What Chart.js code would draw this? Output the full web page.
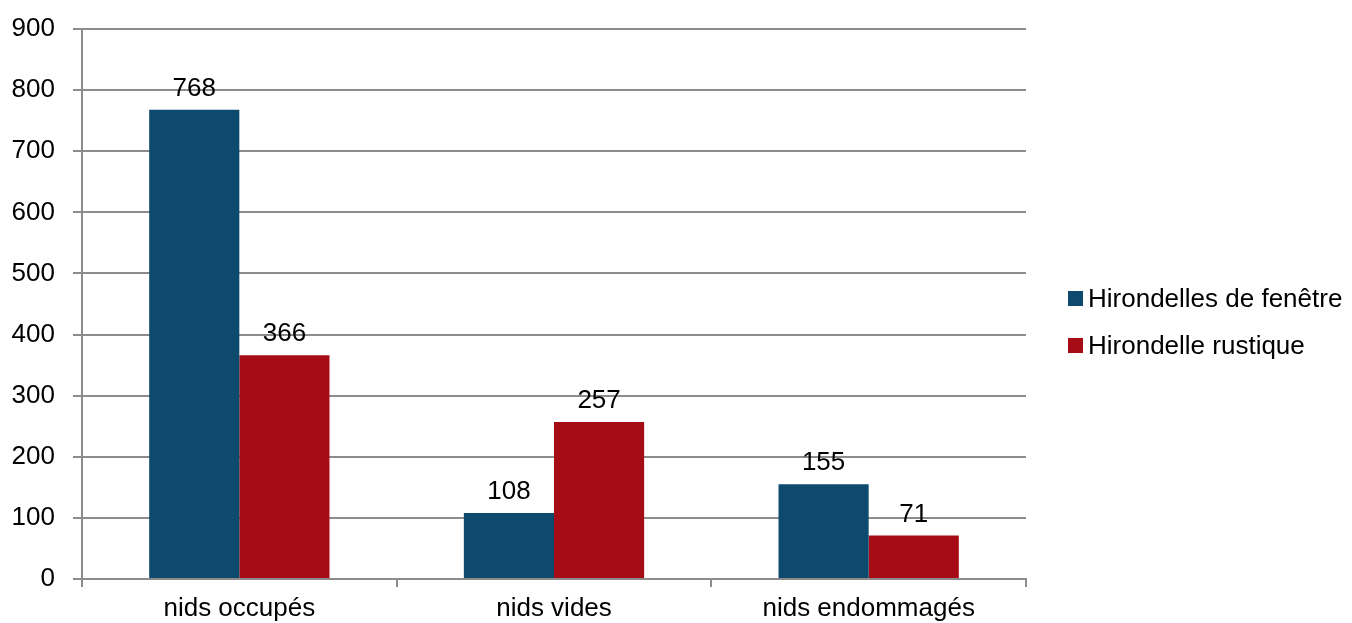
<!DOCTYPE html>
<html>
<head>
<meta charset="utf-8">
<script src="https://cdn.jsdelivr.net/npm/chart.js@4/dist/chart.umd.min.js"></script>
<style>
  html, body { margin: 0; padding: 0; background: #fff; }
  #wrap { width: 1352px; height: 623px; position: relative; }
  #legende { position: absolute; left: 1068px; top: 282px; font: 26px 'Liberation Sans', Arial, sans-serif; color: #000; }
  #legende div { display: flex; align-items: center; height: 32px; margin-bottom: 15px; white-space: nowrap; }
  #legende span.case { display: inline-block; width: 15px; height: 15px; margin-right: 5px; }
</style>
</head>
<body>
<div id="wrap"><canvas id="grafik"></canvas><div id="legende"></div></div>
<script>
// données
const categories = ["nids occupés", "nids vides", "nids endommagés"];
const fenetre = [768, 108, 155];
const rustique = [366, 257, 71];
const yTicks = [0, 100, 200, 300, 400, 500, 600, 700, 800, 900];

const GRIS = "#8c8c8c";
const FONT = "'Liberation Sans', Arial, sans-serif";

// valeurs au-dessus des barres
const etiquettes = {
  id: "etiquettes",
  afterDatasetsDraw(chart) {
    const ctx = chart.ctx;
    ctx.save();
    ctx.font = "26px " + FONT;
    ctx.fillStyle = "#000";
    ctx.textAlign = "center";
    ctx.textBaseline = "alphabetic";
    chart.data.datasets.forEach((ds, i) => {
      chart.getDatasetMeta(i).data.forEach((bar, j) => {
        ctx.fillText(ds.data[j], bar.x, bar.y - 14);
      });
    });
    ctx.restore();
  }
};

const grafik = new Chart(document.getElementById("grafik").getContext("2d"), {
  type: "bar",
  data: {
    labels: categories,
    datasets: [
      { label: "Hirondelles de fenêtre", data: fenetre, backgroundColor: "#0D4A6D", borderWidth: 0 },
      { label: "Hirondelle rustique", data: rustique, backgroundColor: "#A60C15", borderWidth: 0 }
    ]
  },
  options: {
    responsive: true,
    maintainAspectRatio: false,
    animation: false,
    layout: { padding: { top: 29, right: 326, left: 0, bottom: 0 } },
    datasets: { bar: { categoryPercentage: 0.573, barPercentage: 1 } },
    plugins: {
      legend: { display: false },
      tooltip: { enabled: false }
    },
    scales: {
      x: {
        offset: true,
        afterFit: axis => { axis.height = 44; },
        grid: {
          offset: true,
          drawOnChartArea: true,
          color: c => c.index === categories.length ? GRIS : "transparent",
          tickColor: GRIS,
          tickLength: 8,
          lineWidth: 2
        },
        border: { color: GRIS, width: 2 },
        ticks: { font: { size: 26, family: FONT }, color: "#000", padding: 6 }
      },
      y: {
        min: 0,
        max: 900,
        afterFit: axis => { axis.width = 82; axis.paddingTop = 0; axis.paddingBottom = 0; },
        afterBuildTicks: axis => { axis.ticks = yTicks.map(v => ({ value: v })); },
        grid: { color: GRIS, tickColor: GRIS, tickLength: 9, lineWidth: 2 },
        border: { color: GRIS, width: 2 },
        ticks: { font: { size: 26, family: FONT }, color: "#000", padding: 18 }
      }
    }
  },
  plugins: [etiquettes]
});

// légende HTML à droite
const legende = document.getElementById("legende");
grafik.data.datasets.forEach(ds => {
  const ligne = document.createElement("div");
  const caseCouleur = document.createElement("span");
  caseCouleur.className = "case";
  caseCouleur.style.background = ds.backgroundColor;
  ligne.appendChild(caseCouleur);
  ligne.appendChild(document.createTextNode(ds.label));
  legende.appendChild(ligne);
});
</script>
</body>
</html>
